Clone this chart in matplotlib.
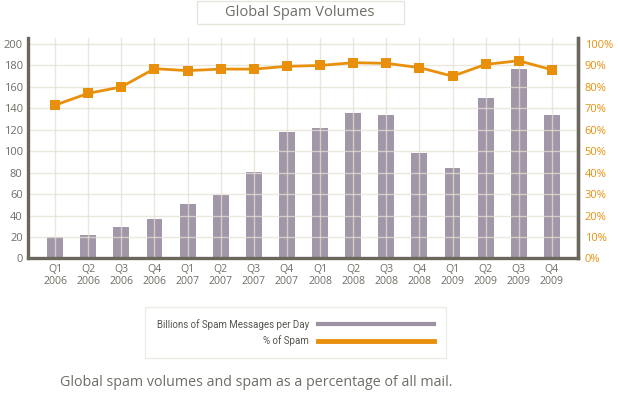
import matplotlib
matplotlib.use("Agg")
import matplotlib.pyplot as plt
from matplotlib.lines import Line2D
from matplotlib.patches import Rectangle

plt.rcParams['font.family'] = ['Open Sans', 'DejaVu Sans']

# --------- data ---------- #
quarters = ["Q1", "Q2", "Q3", "Q4"] * 4
years = ["2006"] * 4 + ["2007"] * 4 + ["2008"] * 4 + ["2009"] * 4
spam_volume = [20, 22, 29, 37, 51, 59, 81, 118, 122, 136, 134, 98, 84, 150, 177, 134]
spam_pct = [71.5, 77, 80, 88.5, 87.6, 88.3, 88.3, 89.6, 90, 91.3, 91, 89, 85, 90.5, 92.2, 88]

left_ticks = list(range(0, 201, 20))
right_ticks = list(range(0, 101, 10))

purple = '#9d92a4'
orange = '#e8900c'
spine_col = '#6b675c'
grid_col = '#e3e0d2'
text_col = '#6e6e66'

fig = plt.figure(figsize=(6.18, 4.0), dpi=100)
ax = fig.add_axes([0.0458, 0.354, 0.889, 0.552])
x = list(range(len(spam_volume)))

ax.bar(x, spam_volume, width=0.48, color=purple, zorder=2, alpha=0.95)
ax.set_xlim(-0.81, 15.78)
ax.set_ylim(0, 206)
ax.set_yticks(left_ticks)
ax.set_xticks(x)
ax.set_xticklabels([q + "\n" + y for q, y in zip(quarters, years)],
                   fontsize=7.6, color=text_col, linespacing=1.1)
ax.tick_params(axis='y', length=0, labelsize=8, labelcolor=text_col, pad=4)
ax.tick_params(axis='x', length=0, pad=4)
ax.grid(True, color=grid_col, linewidth=1, zorder=3)
ax.set_axisbelow(False)
for g in ax.get_xgridlines() + ax.get_ygridlines():
    g.set_zorder(3)
    g.set_alpha(0.75)
ax.spines['top'].set_visible(False)
for s in ['left', 'bottom', 'right']:
    ax.spines[s].set_color(spine_col)
    ax.spines[s].set_linewidth(2.4)
    ax.spines[s].set_zorder(5)

ax2 = ax.twinx()
ax2.plot(x, spam_pct, color=orange, linewidth=2, marker='s', markersize=6.5,
         markeredgewidth=0, zorder=4)
ax2.set_ylim(0, 103)
ax2.set_yticks(right_ticks)
ax2.set_yticklabels([f"{t}%" for t in right_ticks])
ax2.tick_params(axis='y', length=0, labelsize=8, labelcolor=orange, pad=5)
for s in ['top', 'left', 'bottom']:
    ax2.spines[s].set_visible(False)
ax2.spines['right'].set_color(spine_col)
ax2.spines['right'].set_linewidth(2.4)

# title box
fig.patches.append(Rectangle((197 / 618, 1 - 24 / 400), 207 / 618, 23 / 400,
                             transform=fig.transFigure, facecolor='white',
                             edgecolor='#e6e6dc', linewidth=1))
fig.text(300 / 618, 1 - 12 / 400, "Global Spam Volumes", ha='center', va='center',
         fontsize=10.5, color=text_col)

# legend
handles = [Line2D([], [], color=purple, linewidth=3),
           Line2D([], [], color=orange, linewidth=3.5)]
leg = fig.legend(handles, ["Billions of Spam Messages per Day", "% of Spam"],
                 loc='upper left', bbox_to_anchor=(145 / 618, 1 - 307 / 400),
                 markerfirst=False, handlelength=12, fontsize=7,
                 prop={'family': ['Roboto', 'DejaVu Sans'], 'size': 7},
                 frameon=True, fancybox=False, borderpad=1.2,
                 labelspacing=0.6, borderaxespad=0, handletextpad=0.9)
leg.get_frame().set_edgecolor('#e8e8e0')
leg.get_frame().set_linewidth(1)
for t in leg.get_texts():
    t.set_color('#555550')

fig.text(60 / 618, 1 - 383 / 400,
         "Global spam volumes and spam as a percentage of all mail.",
         ha='left', va='center', fontsize=10.3, color=text_col)

fig.savefig("out.png", dpi=100)
